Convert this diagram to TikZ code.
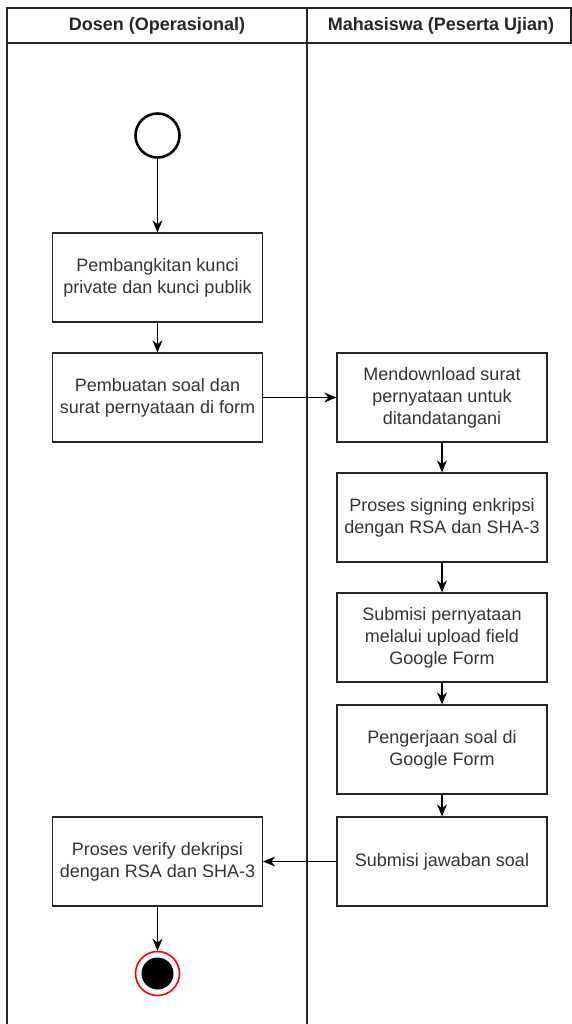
\documentclass[tikz,border=0pt]{standalone}
\usepackage{fontspec}
\setmainfont{Liberation Sans}
\usetikzlibrary{arrows.meta,positioning,shapes}

\begin{document}
\begin{tikzpicture}[x=1pt, y=-1pt, node distance=120pt, inner sep=0pt,
    font=\fontsize{18}{22}\selectfont]
    \tikzstyle{act}=[rectangle, draw=black!85, line width=1.3pt, minimum width=210pt,
      minimum height=89pt, align=center, text=black!80]
    \tikzstyle{lane}=[draw=black!85, line width=1.3pt]
    \tikzstyle{flow}=[->, draw=black, line width=1.3pt, >={Stealth[length=12pt,width=10pt]}]

    \useasboundingbox (0,0) rectangle (572,1024);

    % les couloirs...
    \draw[lane] (7,8) rectangle (571,43);
    \draw[lane] (7,8) -- (7,1024);
    \draw[lane] (307,8) -- (307,1024);
    \node[font=\fontsize{18}{22}\selectfont\bfseries, text=black!85] (hdosen) at (157,26) {Dosen (Operasional)};
    \node[font=\fontsize{18}{22}\selectfont\bfseries, text=black!85] (hmhs) at (441,26) {Mahasiswa (Peserta Ujian)};

    \node[circle, draw=black, line width=2.6pt, minimum size=44pt] (start) at (157.5,135.5) {};
    \node[act] (kunci) [below of=start, node distance=142pt] {Pembangkitan kunci\\private dan kunci publik};
    \node[act] (soal) [below of=kunci] {Pembuatan soal dan\\surat pernyataan di form};

    \node[act] (download) [right of=soal, node distance=284.5pt] {Mendownload surat\\pernyataan untuk\\ditandatangani};
    \node[act] (signing) [below of=download] {Proses signing enkripsi\\dengan RSA dan SHA-3};
    \node[act] (submisi) [below of=signing] {Submisi pernyataan\\melalui upload field\\Google Form};
    \node[act] (kerja) [below of=submisi, node distance=112pt] {Pengerjaan soal di\\Google Form};
    \node[act] (jawaban) [below of=kerja, node distance=112pt] {Submisi jawaban soal};

    \node[act] (verify) [left of=jawaban, node distance=284.5pt] {Proses verify dekripsi\\dengan RSA dan SHA-3};
    \node[circle, draw=red, line width=1.6pt, fill=white, minimum size=44pt] (stop) [below of=verify, node distance=112pt] {};
    \fill[black] (stop.center) circle (16pt);

    % les fleches...
    \draw[flow] (start) to (kunci);
    \draw[flow] (kunci) to (soal);
    \draw[flow] (soal) to (download);
    \draw[flow] (download) to (signing);
    \draw[flow] (signing) to (submisi);
    \draw[flow] (submisi) to (kerja);
    \draw[flow] (kerja) to (jawaban);
    \draw[flow] (jawaban) to (verify);
    \draw[flow] (verify) to (stop);
\end{tikzpicture}
\end{document}
